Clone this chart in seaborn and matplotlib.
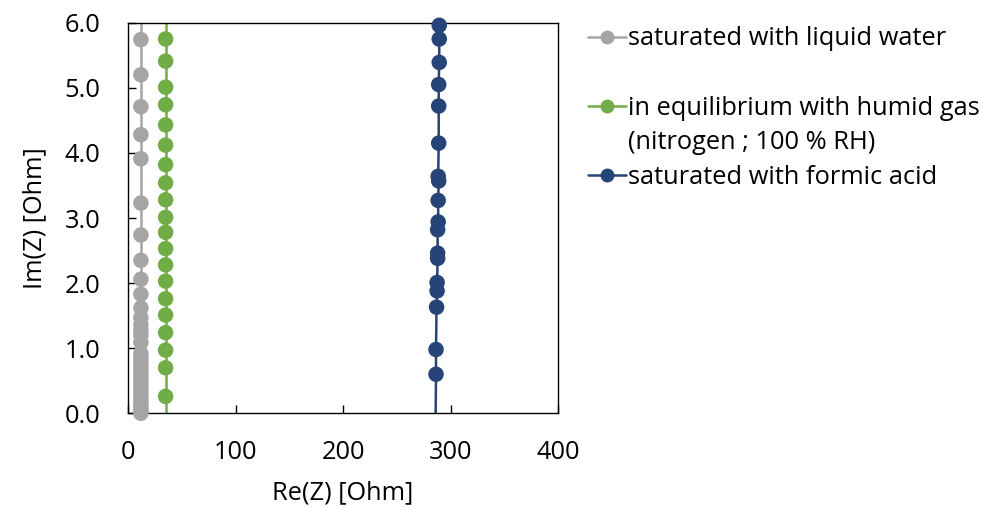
import pandas as pd
import seaborn as sns
import matplotlib.pyplot as plt
from matplotlib.lines import Line2D

# values (Re in Ohm, Im in Ohm)
water_re = [12, 12, 12, 12, 12, 12, 12, 12, 12, 12, 12, 12, 12, 12, 12, 12,
            12, 12, 12, 12, 12, 12, 12, 12, 12, 12, 12, 12, 12, 12, 12, 12, 12, 12]
water_im = [6.40, 5.74, 5.20, 4.71, 4.28, 3.91, 3.23, 2.74, 2.35, 2.06, 1.83, 1.62,
            1.47, 1.36, 1.27, 1.20, 1.09, 0.92, 0.86, 0.80, 0.74, 0.68, 0.62, 0.56,
            0.50, 0.44, 0.38, 0.32, 0.26, 0.20, 0.14, 0.09, 0.04, 0.0]

gas_re = [35] * 22
gas_im = [6.10, 5.75, 5.41, 5.01, 4.74, 4.43, 4.12, 3.82, 3.54, 3.28, 3.01, 2.78,
          2.53, 2.28, 2.03, 1.76, 1.51, 1.24, 0.97, 0.70, 0.26, -0.20]

acid_re = [290, 289.5, 289.5, 289.5, 289, 289, 289, 288.5, 289, 288.5, 288.5, 288,
           288, 288, 287.5, 287.5, 287, 286.5, 286.5, 286]
acid_im = [6.20, 5.96, 5.75, 5.39, 5.05, 4.72, 4.15, 3.64, 3.57, 3.27, 2.94, 2.82,
           2.46, 2.38, 2.01, 1.88, 1.63, 0.98, 0.60, -0.30]

labels = ["saturated with liquid water",
          "in equilibrium with humid gas\n(nitrogen ; 100 % RH)",
          "saturated with formic acid"]
colors = ["#A5A5A5", "#70AD47", "#264478"]

frames = []
for lab, re, im in zip(labels, [water_re, gas_re, acid_re], [water_im, gas_im, acid_im]):
    frames.append(pd.DataFrame({"re": re, "im": im, "sample": lab}))
df = pd.concat(frames, ignore_index=True)

sns.set_style("white")
plt.rcParams["font.family"] = ["Open Sans", "DejaVu Sans"]
fs = 18.3

fig = plt.figure(figsize=(9.83, 5.08), dpi=100)
ax = fig.add_axes([0.1302, 0.1864, 0.4375, 0.7689])

# lines (clipped to the plot area) and markers (inside range, not clipped)
sns.lineplot(data=df, x="re", y="im", hue="sample", palette=colors, sort=False,
             estimator=None, units="sample", linewidth=1.8, legend=False, ax=ax)
inside = df[(df["im"] >= 0) & (df["im"] <= 6)]
sns.scatterplot(data=inside, x="re", y="im", hue="sample", palette=colors, s=125,
                edgecolor="none", linewidth=0, legend=False, ax=ax, clip_on=False, zorder=3)

ax.set_xlim(0, 400)
ax.set_ylim(0, 6)
ax.set_xticks([0, 100, 200, 300, 400])
ax.set_yticks([0, 1, 2, 3, 4, 5, 6])
ax.set_yticklabels([f"{v:.1f}" for v in [0, 1, 2, 3, 4, 5, 6]])
ax.tick_params(direction="in", length=6, width=1, labelsize=fs, color="black",
               labelcolor="black", bottom=True, left=True)
ax.tick_params(axis="x", pad=19)
ax.tick_params(axis="y", pad=20)
for sp in ax.spines.values():
    sp.set_color("black")
    sp.set_linewidth(1)
ax.set_xlabel("Re(Z) [Ohm]", fontsize=fs, labelpad=11, color="black")
ax.set_ylabel("Im(Z) [Ohm]", fontsize=fs, labelpad=12, color="black")

handles = [
    Line2D([], [], color=colors[0], marker="o", markersize=9, lw=1.8),
    Line2D([], [], color="none"),
    Line2D([], [], color=colors[1], marker="o", markersize=9, lw=1.8),
    Line2D([], [], color="none"),
    Line2D([], [], color=colors[2], marker="o", markersize=9, lw=1.8),
]
texts = [labels[0], " ", "in equilibrium with humid gas", "(nitrogen ; 100 % RH)", labels[2]]
leg = fig.legend(handles, texts, loc="upper left", bbox_to_anchor=(0.598, 0.948),
                 frameon=False, fontsize=fs, handlelength=1.52, handletextpad=0.05,
                 labelspacing=0.38, borderaxespad=0, borderpad=0)
for t in leg.get_texts():
    t.set_color("black")

fig.savefig("out.png", dpi=100)
